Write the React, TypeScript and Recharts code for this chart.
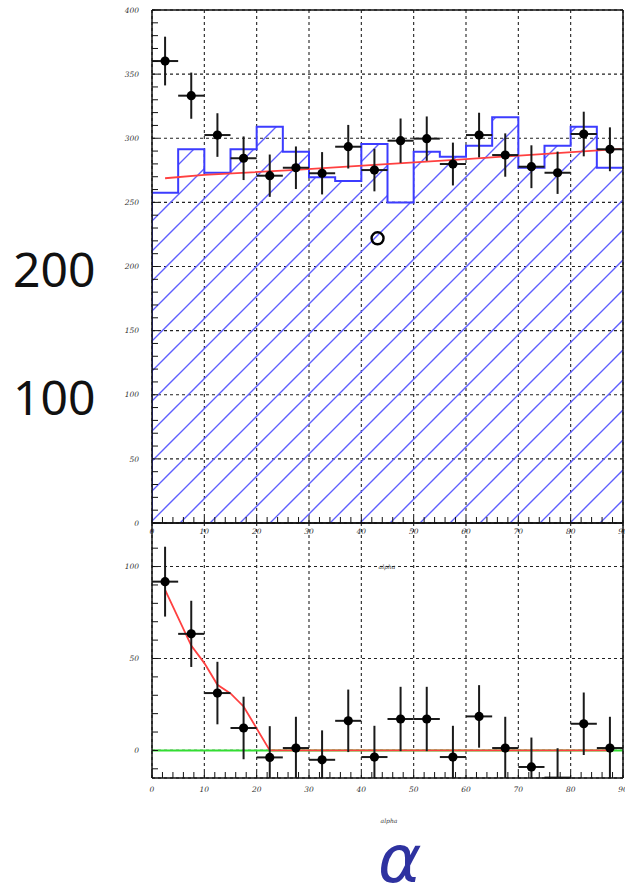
import React from 'react';
import {
  ComposedChart, XAxis, YAxis, CartesianGrid, Area, Line, Scatter, ErrorBar,
} from 'recharts';

// ---- data ----
const binEdges = [0, 5, 10, 15, 20, 25, 30, 35, 40, 45, 50, 55, 60, 65, 70, 75, 80, 85, 90];
const binCenters = [2.5, 7.5, 12.5, 17.5, 22.5, 27.5, 32.5, 37.5, 42.5, 47.5, 52.5, 57.5, 62.5, 67.5, 72.5, 77.5, 82.5, 87.5];
const histTop = [257.5, 291.4, 273.1, 291.4, 309.0, 289.5, 269.5, 266.7, 295.5, 250.0, 289.5, 285.6, 294.2, 316.3, 277.0, 294.2, 309.0, 277.0];
const topVals = [360.2, 333.2, 302.5, 284.4, 270.8, 277.0, 272.7, 293.4, 275.2, 298.1, 299.7, 279.9, 302.5, 286.9, 277.8, 273.1, 303.3, 291.4];
const topErr = [19, 18, 17, 17, 16.5, 16.6, 16.5, 17, 16.6, 17.3, 17.3, 16.7, 17.4, 16.9, 16.7, 16.5, 17.4, 17.1];
const botVals = [91.8, 63.4, 31.2, 12.2, -3.8, 1.3, -5.1, 16.1, -3.6, 17.1, 17.1, -3.6, 18.5, 1.3, -9.0, -14.8, 14.5, 1.3];
const botErr = [19, 18, 17, 17, 17, 17, 16, 17, 17, 17.5, 17.5, 17, 17, 17, 16, 16, 17, 17];
const halfBin = [2.5, 2.5, 2.5, 2.5, 2.5, 2.5, 2.5, 2.5, 2.5, 2.5, 2.5, 2.5, 2.5, 2.5, 2.5, 2.5, 2.5, 2.5];
const topFitX = [2.5, 10, 27.5, 42.5, 59.3, 75.2, 89.6];
const topFitY = [268.8, 271.4, 275.3, 279.3, 283.6, 287.8, 291.7];
const botFitX = [2.5, 7.5, 10, 12.5, 15, 17.5, 22.5, 87.5];
const botFitY = [87.3, 57.0, 47.5, 35.7, 31.0, 23.9, 0, 0];
const baselineX = [0, 90];
const baselineY = [0, 0];
const openPointX = [43.1];
const openPointY = [222];

const xMajorTicks = [0, 10, 20, 30, 40, 50, 60, 70, 80, 90];
const topYTicks = [0, 50, 100, 150, 200, 250, 300, 350, 400];
const botYTicks = [0, 50, 100];
const xMinorTicks = Array.from({ length: 46 }, (_, i) => i * 2);
const topYMinor = Array.from({ length: 41 }, (_, i) => i * 10);
const botYMinor = Array.from({ length: 13 }, (_, i) => i * 10 - 10);

const X_DOMAIN: [number, number] = [0, 90];
const TOP_DOMAIN: [number, number] = [0, 400];
const BOT_DOMAIN: [number, number] = [-15, 123.7];

// ---- derived tables ----
const histData = [{ x: binEdges[0], y: 0 }, ...binEdges.map((e, i) => ({ x: e, y: histTop[Math.min(i, histTop.length - 1)] }))];
const clipErr = (y: number, e: number, lo: number) => [Math.max(0, Math.min(e, y - lo)), e];
const topPoints = binCenters.map((x, i) => ({ x, y: topVals[i], ey: clipErr(topVals[i], topErr[i], TOP_DOMAIN[0]), ex: halfBin[i] }));
const botPoints = binCenters.map((x, i) => ({ x, y: botVals[i], ey: clipErr(botVals[i], botErr[i], BOT_DOMAIN[0]), ex: halfBin[i] }));
const topFit = topFitX.map((x, i) => ({ x, y: topFitY[i] }));
const botFit = botFitX.map((x, i) => ({ x, y: botFitY[i] }));
const baseline = baselineX.map((x, i) => ({ x, y: baselineY[i] }));
const openPoint = openPointX.map((x, i) => ({ x, y: openPointY[i] }));

const TICK_FONT = 'DejaVu Serif';
const frame = { stroke: '#111', strokeWidth: 1.5 };

const makeXTick = (majors: number[]) => (props: any) => {
  const { x, y, payload } = props;
  if (!majors.includes(payload.value)) return <g />;
  return (
    <text x={x} y={y} dy="0.71em" textAnchor="middle" fontSize={7.5} fontFamily={TICK_FONT} fontStyle="italic" fill="#333">
      {payload.value}
    </text>
  );
};
const makeYTick = (majors: number[]) => (props: any) => {
  const { x, y, payload } = props;
  if (!majors.includes(payload.value)) return <g />;
  return (
    <text x={x} y={y} dy="0.355em" textAnchor="end" fontSize={7.5} fontFamily={TICK_FONT} fontStyle="italic" fill="#333">
      {payload.value}
    </text>
  );
};

const makeDot = (minVisible: number) => (props: any) => {
  const { cx, cy, payload } = props;
  if (payload && payload.y < minVisible) return <g />;
  return <circle cx={cx} cy={cy} r={4.6} fill="#000" />;
};

const OpenDot = (props: any) => {
  const { cx, cy } = props;
  return <circle cx={cx} cy={cy} r={6} fill="none" stroke="#000" strokeWidth={2.4} />;
};

const verticalGen = (args: any) => {
  const { xAxis, offset } = args || {};
  return xMajorTicks.map((v) => {
    if (xAxis && typeof xAxis.scale === 'function') return xAxis.scale(v);
    return offset.left + ((v - X_DOMAIN[0]) / (X_DOMAIN[1] - X_DOMAIN[0])) * offset.width;
  });
};

const W = 625;
const TICK = -6;

function frameAxes(yDomain: [number, number], yMinor: number[], yMajor: number[], xLabelGap: number) {
  return [
    <YAxis key="yg" yAxisId="g" type="number" domain={yDomain} allowDataOverflow ticks={yMajor} interval={0} hide />,
    <XAxis key="xb" type="number" dataKey="x" domain={X_DOMAIN} allowDataOverflow ticks={xMinorTicks} interval={0}
      height={1} tickSize={TICK} tickMargin={xLabelGap} tick={makeXTick(xMajorTicks)} axisLine={frame} stroke="#111" />,
    <XAxis key="xt" xAxisId="t" orientation="top" type="number" domain={X_DOMAIN} allowDataOverflow ticks={xMinorTicks} interval={0}
      height={1} tickSize={TICK} tick={false} axisLine={frame} stroke="#111" />,
    <YAxis key="yl" type="number" dataKey="y" domain={yDomain} allowDataOverflow ticks={yMinor} interval={0}
      width={1} tickSize={TICK} tickMargin={19} tick={makeYTick(yMajor)} axisLine={frame} stroke="#111" />,
    <YAxis key="yr" yAxisId="r" orientation="right" type="number" domain={yDomain} allowDataOverflow ticks={yMinor} interval={0}
      width={1} tickSize={TICK} tick={false} axisLine={frame} stroke="#111" />,
  ];
}

export default function App() {
  const topH = 545;
  const botTop = 500;
  const botH = 312;
  return (
    <div style={{ position: 'absolute', left: 0, top: 0, width: W, height: 888, background: '#fff' }}>
      <div style={{ position: 'absolute', left: 0, top: 0 }}>
        <ComposedChart width={W} height={topH} margin={{ top: 9, right: 1, bottom: topH - 523 - 1, left: 151 }}>
          <defs>
            <pattern id="hatchTop" patternUnits="userSpaceOnUse" width="30" height="30" patternTransform="translate(13,0)">
              <path d="M0,30 L30,0 M-2,2 L2,-2 M28,32 L32,28" stroke="#5f5fff" strokeWidth="1.4" />
            </pattern>
          </defs>
          <CartesianGrid yAxisId="g" stroke="#222" strokeDasharray="3 3" strokeWidth={1.1} verticalCoordinatesGenerator={verticalGen} />
          {frameAxes(TOP_DOMAIN, topYMinor, topYTicks, 12)}
          <Area data={histData} dataKey="y" type="stepAfter" fill="url(#hatchTop)" fillOpacity={1}
            stroke="#3c3cff" strokeWidth={2} isAnimationActive={false} dot={false} activeDot={false} />
          <Line data={topFit} dataKey="y" type="linear" stroke="#ff4040" strokeWidth={1.8} dot={false} activeDot={false} isAnimationActive={false} />
          <Scatter data={topPoints} shape={makeDot(TOP_DOMAIN[0])} isAnimationActive={false}>
            <ErrorBar dataKey="ey" direction="y" width={0} stroke="#1a1a1a" strokeWidth={2} isAnimationActive={false} />
            <ErrorBar dataKey="ex" direction="x" width={0} stroke="#1a1a1a" strokeWidth={2} isAnimationActive={false} />
          </Scatter>
          <Scatter data={openPoint} shape={OpenDot} isAnimationActive={false} />
        </ComposedChart>
      </div>
      <div style={{ position: 'absolute', left: 0, top: botTop }}>
        <ComposedChart width={W} height={botH} margin={{ top: 523 - botTop - 1, right: 1, bottom: botH - (778 - botTop) - 1, left: 151 }}>
          <CartesianGrid yAxisId="g" stroke="#222" strokeDasharray="3 3" strokeWidth={1.1} verticalCoordinatesGenerator={verticalGen} />
          {frameAxes(BOT_DOMAIN, botYMinor, botYTicks, 15)}
          <Line data={baseline} dataKey="y" type="linear" stroke="#33dd33" strokeWidth={2} dot={false} activeDot={false} isAnimationActive={false} />
          <Line data={botFit} dataKey="y" type="linear" stroke="#ff4040" strokeWidth={1.8} dot={false} activeDot={false} isAnimationActive={false} />
          <Scatter data={botPoints} shape={makeDot(-14)} isAnimationActive={false}>
            <ErrorBar dataKey="ey" direction="y" width={0} stroke="#1a1a1a" strokeWidth={2} isAnimationActive={false} />
            <ErrorBar dataKey="ex" direction="x" width={0} stroke="#1a1a1a" strokeWidth={2} isAnimationActive={false} />
          </Scatter>
        </ComposedChart>
      </div>
      <svg width={W} height={888} style={{ position: 'absolute', left: 0, top: 0, pointerEvents: 'none' }}>
        <text x={13} y={287} fontSize={48} fontFamily="Noto Sans" fill="#111">200</text>
        <text x={13} y={415} fontSize={48} fontFamily="Noto Sans" fill="#111">100</text>
        <text x={387} y={569} fontSize={6} fontFamily={TICK_FONT} fontStyle="italic" fill="#333" textAnchor="middle">alpha</text>
        <text x={389} y={823} fontSize={6} fontFamily={TICK_FONT} fontStyle="italic" fill="#333" textAnchor="middle">alpha</text>
        <text x={378} y={882} fontSize={66} fontFamily="DejaVu Sans" fontStyle="italic" fill="#2e32a0">α</text>
      </svg>
    </div>
  );
}
